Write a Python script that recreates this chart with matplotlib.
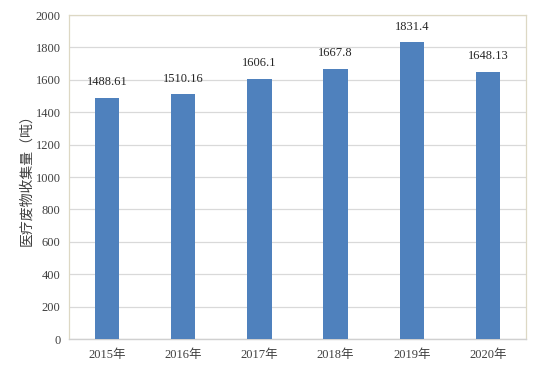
import matplotlib.pyplot as plt

# data
years = ["2015年", "2016年", "2017年", "2018年", "2019年", "2020年"]
values = [1488.61, 1510.16, 1606.1, 1667.8, 1831.4, 1648.13]
value_labels = ["1488.61", "1510.16", "1606.1", "1667.8", "1831.4", "1648.13"]
yticks = [0, 200, 400, 600, 800, 1000, 1200, 1400, 1600, 1800, 2000]

plt.rcParams['font.family'] = ['Liberation Serif', 'Noto Sans CJK SC']

fig = plt.figure(figsize=(5.41, 3.72), dpi=100)
ax = fig.add_axes([69 / 541, 33 / 372, 457 / 541, 324 / 372])

x = range(len(years))
ax.bar(x, values, width=0.32, color='#4F81BD', zorder=3)
for i, v in enumerate(values):
    ax.text(i, v + 60, value_labels[i], ha='center', va='bottom',
            fontsize=9, color='#262626')

ax.set_xlim(-0.5, len(years) - 0.5)
ax.set_ylim(0, 2000)
ax.set_yticks(yticks)
ax.set_yticklabels([str(t) for t in yticks], fontsize=9, color='#404040')
ax.set_xticks(list(x))
ax.set_xticklabels(years, fontsize=9, color='#404040')
ax.tick_params(length=0, pad=6)
ax.tick_params(axis='x', pad=7)
ax.grid(axis='y', color='#D9D9D9', linewidth=0.9, zorder=0)

for side in ['left', 'top', 'right']:
    ax.spines[side].set_color('#DDD8C4')
    ax.spines[side].set_linewidth(0.9)
ax.spines['bottom'].set_color('#D0D0D0')
ax.spines['bottom'].set_linewidth(1.0)

ax.set_ylabel("医疗废物收集量（吨）", fontsize=10, color='#404040',
              family=['Noto Sans CJK SC'], labelpad=2)

fig.savefig("out.png", dpi=100)
